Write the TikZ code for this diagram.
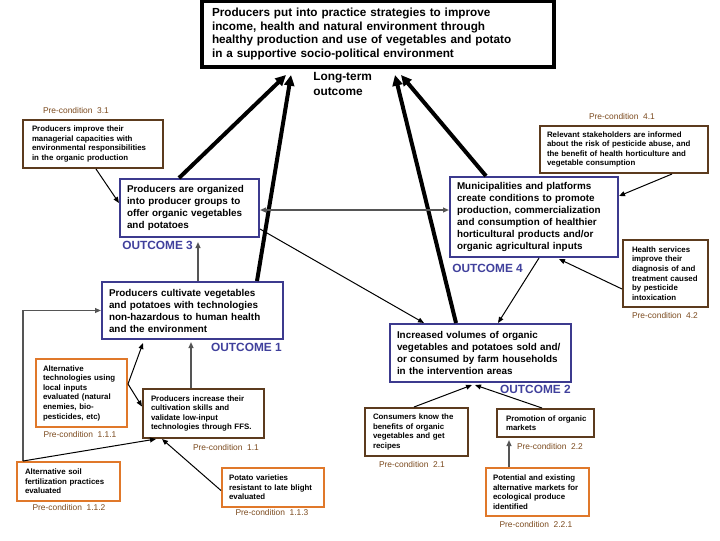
\documentclass[tikz,border=0pt]{standalone}
\usepackage{fontspec}
\setmainfont{Liberation Sans}
\usetikzlibrary{arrows.meta}
\newlength\px \setlength\px{0.75pt}
\newcommand\nohyph{\hyphenpenalty=10000\relax\exhyphenpenalty=10000\relax\hbadness=10000\relax\hfuzz=50pt\relax}
\definecolor{navy}{HTML}{3C3A8E}
\definecolor{navytxt}{HTML}{40409C}
\definecolor{brownb}{HTML}{5C3B1E}
\definecolor{orangeb}{HTML}{E0782A}
\definecolor{labbrown}{HTML}{7B4A1E}
\definecolor{garr}{HTML}{555555}
\tikzset{
  bx/.style={draw, line width=1.5pt, inner sep=0pt, align=left, fill=white},
  obox/.style={bx, draw=navy, font=\bfseries\fontsize{7.4}{9}\selectfont\nohyph},
  bbox/.style={bx, draw=brownb, font=\bfseries\fontsize{5.9}{7.2}\selectfont\nohyph},
  orbox/.style={bx, draw=orangeb, font=\bfseries\fontsize{5.9}{7.2}\selectfont\nohyph},
  pclabel/.style={inner sep=0pt, text=labbrown, font=\fontsize{6.3}{7.5}\selectfont},
  olabel/.style={inner sep=0pt, text=navytxt, font=\bfseries\fontsize{8.9}{10}\selectfont},
  thick arrow/.style={line width=3pt, -{Triangle[length=8pt,width=7.5pt]}},
  thin arrow/.style={line width=0.75pt, -{Triangle[length=4.5pt,width=3.6pt]}},
  gray arrow/.style={line width=1.1pt, draw=garr, -{Triangle[length=4.5pt,width=3.6pt]}, color=garr},
}
\begin{document}
\begin{tikzpicture}[x=0.75pt, y=-0.75pt]
\useasboundingbox (0,0) rectangle (720,540);
% top box
\node[draw, line width=3pt, inner sep=0pt, align=left, minimum width=352\px, minimum height=66\px, text width=332\px,
  font=\bfseries\fontsize{8.8}{10.1}\selectfont\nohyph] (top) at (378,34)
  {Producers put into practice strategies to improve\\income, health and natural environment through\\healthy production and use of vegetables and potato\\in a supportive socio-political environment};
\node[anchor=west, align=left, inner sep=0pt, font=\bfseries\fontsize{8.9}{10.6}\selectfont] (lt) at (313,84) {Long-term\\outcome};

% outcome 3
\node[pclabel] (l31) at (76,110) {Pre-condition\ \ 3.1};
\node[bbox, minimum width=140\px, minimum height=48\px, text width=122\px] (pc31) at (93,144)
  {Producers improve their\\managerial capacities with\\environmental responsibilities\\in the organic production};
\node[obox, minimum width=139\px, minimum height=58\px, text width=125\px] (o3) at (189.5,208)
  {Producers are organized\\into producer groups to\\offer organic vegetables\\and potatoes};
\node[olabel, anchor=west] (ol3) at (122,245) {OUTCOME 3};

% outcome 4
\node[pclabel] (l41) at (622,116) {Pre-condition\ \ 4.1};
\node[bbox, minimum width=168\px, minimum height=47\px, text width=154\px] (pc41) at (624,149.5)
  {Relevant stakeholders are informed\\about the risk of pesticide abuse, and\\the benefit of health horticulture and\\vegetable consumption};
\node[obox, minimum width=168\px, minimum height=80\px, text width=154\px] (o4) at (534,217)
  {Municipalities and platforms\\create conditions to promote\\production, commercialization\\and consumption of healthier\\horticultural products and/or\\organic agricultural inputs};
\node[olabel, anchor=west] (ol4) at (452,268) {OUTCOME 4};
\node[bbox, minimum width=85\px, minimum height=67\px, text width=67\px] (pc42) at (665.5,273.5)
  {Health services\\improve their\\diagnosis of and\\treatment caused\\by pesticide\\intoxication};
\node[pclabel] (l42) at (665,315) {Pre-condition\ \ 4.2};

% outcome 1
\node[obox, minimum width=181\px, minimum height=57\px, text width=167\px] (o1) at (192.5,310.5)
  {Producers cultivate vegetables\\and potatoes with technologies\\non-hazardous to human health\\and the environment};
\node[olabel, anchor=east] (ol1) at (282,347) {OUTCOME 1};
\node[orbox, minimum width=91\px, minimum height=68\px, text width=77\px] (pc111) at (81.5,393)
  {Alternative\\technologies using\\local inputs\\evaluated (natural\\enemies, bio-\\pesticides, etc)};
\node[pclabel] (l111) at (80,434.5) {Pre-condition\ \ 1.1.1};
\node[bbox, minimum width=121\px, minimum height=49\px, text width=105\px] (pc11) at (203.5,413.5)
  {Producers increase their\\cultivation skills and\\validate low-input\\technologies through FFS.};
\node[pclabel] (l11) at (226,447) {Pre-condition\ \ 1.1};
\node[orbox, minimum width=103\px, minimum height=39\px, text width=87\px] (pc112) at (68.5,481.5)
  {Alternative soil\\fertilization practices\\evaluated};
\node[pclabel] (l112) at (69,507) {Pre-condition\ \ 1.1.2};
\node[orbox, minimum width=102\px, minimum height=39\px, text width=88\px] (pc113) at (273,487.5)
  {Potato varieties\\resistant to late blight\\evaluated};
\node[pclabel] (l113) at (272,512.5) {Pre-condition\ \ 1.1.3};

% outcome 2
\node[obox, minimum width=181\px, minimum height=58\px, text width=167\px] (o2) at (480.5,353)
  {Increased volumes of organic\\vegetables and potatoes sold and/\\or consumed by farm households\\in the intervention areas};
\node[olabel, anchor=east] (ol2) at (571,389) {OUTCOME 2};
\node[bbox, minimum width=103\px, minimum height=48\px, text width=87\px] (pc21) at (416.5,432)
  {Consumers know the\\benefits of organic\\vegetables and get\\recipes};
\node[pclabel] (l21) at (412,464.5) {Pre-condition\ \ 2.1};
\node[bbox, minimum width=97\px, minimum height=28\px, text width=79\px] (pc22) at (545.5,423)
  {\mbox{Promotion of organic}\\markets};
\node[pclabel] (l22) at (550,446) {Pre-condition\ \ 2.2};
\node[orbox, minimum width=103\px, minimum height=48\px, text width=89\px] (pc221) at (537.5,492)
  {Potential and existing\\alternative markets for\\ecological produce\\identified};
\node[pclabel] (l221) at (536,524.5) {Pre-condition\ \ 2.2.1};

% thick arrows to long-term outcome
\draw[thick arrow] ([xshift=60\px]o3.north west) -- ([xshift=86\px,yshift=-6\px]top.south west);
\draw[thick arrow] ([xshift=156\px]o1.north west) -- ([xshift=91\px,yshift=-6\px]top.south west);
\draw[thick arrow] ([xshift=67\px]o2.north west) -- ([xshift=195\px,yshift=-6\px]top.south west);
\draw[thick arrow] ([xshift=37\px]o4.north west) -- ([xshift=201\px,yshift=-6\px]top.south west);

% thin arrows
\draw[thin arrow] ([xshift=74\px]pc31.south west) -- ([yshift=5\px]o3.west);
\coordinate (d1) at ([yshift=-2\px]o3.east);
\draw[gray arrow, {Triangle[length=4.5pt,width=3.6pt]}-{Triangle[length=4.5pt,width=3.6pt]}] (d1) -- (d1 -| o4.west);
\draw[thin arrow] ([yshift=9\px]o3.south east) -- ([xshift=35\px]o2.north west);
\draw[gray arrow] ([xshift=97\px]o1.north west) -- ([xshift=79\px,yshift=-4\px]o3.south west);
\draw[thin arrow] ([xshift=133\px]pc41.south west) -- ([yshift=-20\px]o4.north east);
\draw[thin arrow] ([yshift=19\px]pc42.south west) -- ([xshift=110\px,yshift=-1\px]o4.south west);
\draw[thin arrow] ([xshift=90\px]o4.south west) -- ([xshift=109\px]o2.north west);

\coordinate (j1) at ([yshift=-26\px]pc111.north east);
\draw[thin arrow] (j1) -- ([xshift=42\px,yshift=-3\px]o1.south west);
\draw[thin arrow] (j1) -- ([yshift=7\px]pc11.west);
\draw[gray arrow] ([xshift=49\px]pc11.north west) -- ([xshift=90\px,yshift=-2\px]o1.south west);
\coordinate (j2) at ([xshift=7\px]pc112.north west);
\draw[gray arrow] (j2) |- (o1.west);
\draw[thin arrow] (j2) -- ([xshift=14\px]pc11.south west);
\draw[thin arrow] ([yshift=-3\px]pc113.west) -- ([xshift=20\px]pc11.south west);

\draw[thin arrow] ([xshift=50\px]pc21.north west) -- ([xshift=83\px,yshift=-2\px]o2.south west);
\draw[thin arrow] ([xshift=46\px]pc22.north west) -- ([xshift=86\px,yshift=-2\px]o2.south west);
\draw[gray arrow] ([xshift=24\px]pc221.north west) -- ([xshift=13\px,yshift=-2\px]pc22.south west);
\end{tikzpicture}
\end{document}
